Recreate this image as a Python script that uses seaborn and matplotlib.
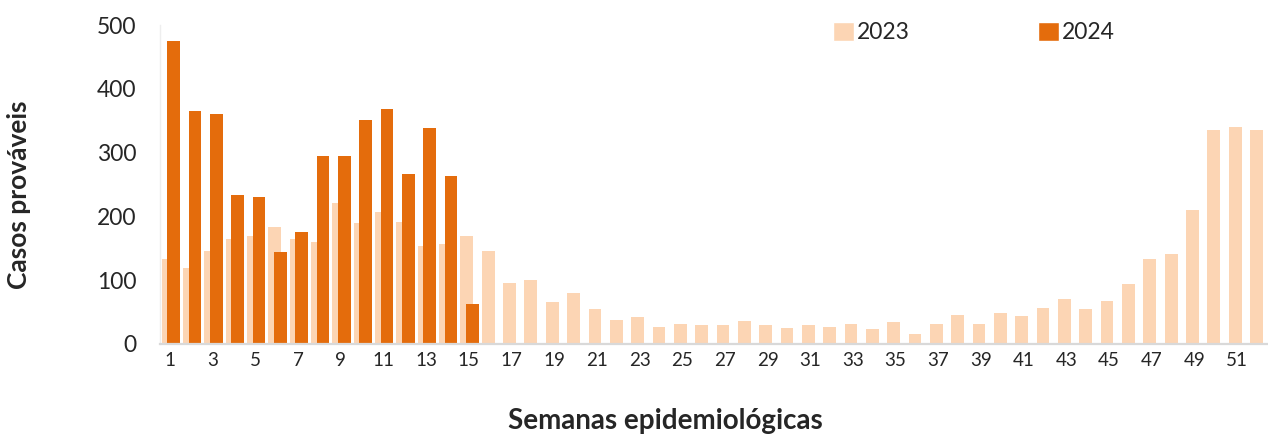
import matplotlib.pyplot as plt
import matplotlib.patches as mpatches
import pandas as pd
import seaborn as sns

semanas = list(range(1, 53))
casos_2023 = [133, 119, 146, 165, 170, 184, 164, 160, 221, 190, 207, 192, 153, 157, 170, 146,
              95, 101, 66, 80, 55, 38, 43, 26, 31, 30, 30, 36, 30, 25, 29, 27, 31, 23,
              34, 16, 31, 45, 32, 49, 44, 57, 70, 55, 68, 94, 133, 141, 210, 335, 340, 336]
semanas_2024 = list(range(1, 16))
casos_2024 = [475, 365, 360, 234, 231, 144, 176, 294, 295, 351, 369, 266, 338, 264, 62]
anos = ['2023', '2024']

cor_claro = '#FCD5B4'
cor_escuro = '#E46C0C'

sns.set_style('white')
plt.rcParams['font.family'] = ['Lato', 'DejaVu Sans']

df = pd.concat([
    pd.DataFrame({'semana': semanas, 'casos': casos_2023, 'ano': anos[0]}),
    pd.DataFrame({'semana': semanas_2024, 'casos': casos_2024, 'ano': anos[1]}),
])

fig = plt.figure(figsize=(12.68, 4.34), dpi=100)
ax = fig.add_axes([160 / 1268, 90 / 434, 1108 / 1268, 319 / 434])

sns.barplot(data=df, x='semana', y='casos', hue='ano', order=semanas,
            palette={anos[0]: cor_claro, anos[1]: cor_escuro},
            dodge=False, width=0.6, saturation=1, errorbar=None,
            linewidth=0, legend=False, ax=ax)

# overlapping bars like the excel original: 2023 a bit left, 2024 a bit right
for cont, desloc in zip(ax.containers, [-0.09, 0.17]):
    for b in cont:
        b.set_x(b.get_x() + desloc)

ax.set_ylim(0, 500)
ax.set_xlim(-0.47, 51.45)
ax.set_yticks([0, 100, 200, 300, 400, 500])
ax.set_xticks(range(0, 52, 2))
ax.set_xticklabels([str(s) for s in semanas[::2]], fontsize=13.5)
ax.tick_params(axis='y', labelsize=16.5, length=0, pad=17)
ax.tick_params(axis='x', length=0, pad=6)

sns.despine(ax=ax, top=True, right=True)
ax.spines['bottom'].set_color('#d9d9d9')
ax.spines['bottom'].set_linewidth(1.6)
ax.spines['left'].set_color('#eeeeee')
ax.spines['left'].set_linewidth(1)

ax.set_ylabel('Casos prováveis', fontsize=19, fontweight='bold')
ax.set_xlabel('Semanas epidemiológicas', fontsize=20, fontweight='bold')
ax.yaxis.set_label_coords(-0.116, 0.467)
ax.xaxis.set_label_coords(0.456, -0.2)

handles = [mpatches.Patch(facecolor=cor_claro), mpatches.Patch(facecolor=cor_escuro)]
ax.legend(handles=handles, labels=anos, ncol=2, frameon=False, fontsize=16.5,
          loc='upper left', bbox_to_anchor=(833 / 1268, 1 - 22 / 434),
          bbox_transform=fig.transFigure, borderpad=0, borderaxespad=0,
          handlelength=0.9, handleheight=0.9, handletextpad=0.15, columnspacing=5.6)

fig.savefig('out.png', dpi=100)
